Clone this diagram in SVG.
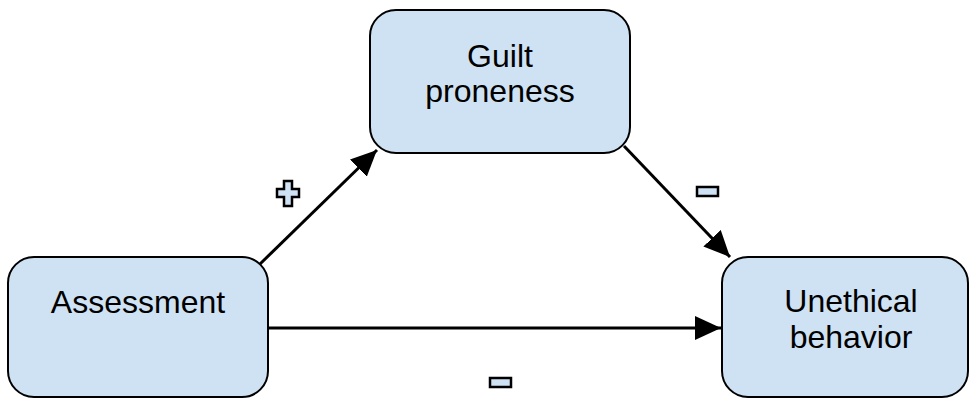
<svg xmlns="http://www.w3.org/2000/svg" width="969" height="398" viewBox="0 0 969 398">
<style>
.node{fill:#cfe2f3;stroke:#000;stroke-width:2}
.lbl{font-family:"Liberation Sans",Arial,sans-serif;font-size:32px;fill:#000;text-anchor:middle}
.edge{stroke:#000;stroke-width:3;fill:none}
.sign{fill:#cfe2f3;stroke:#000;stroke-width:2.5}
</style>
<defs>
<marker id="arr" markerUnits="userSpaceOnUse" viewBox="0 0 26 24" refX="26" refY="12" markerWidth="26" markerHeight="24" orient="auto">
<path d="M0,0 L26,12 L0,24 z" fill="#000"/>
</marker>
</defs>
<g id="edges">
<line class="edge" x1="260" y1="264" x2="377" y2="150" marker-end="url(#arr)"/>
<line class="edge" x1="624" y1="146" x2="730" y2="257" marker-end="url(#arr)"/>
<line class="edge" x1="268" y1="328" x2="721" y2="328" marker-end="url(#arr)"/>
</g>
<g id="guilt">
<rect class="node" x="370" y="10" width="260" height="143" rx="26"/>
<text class="lbl" x="500" y="67">Guilt</text>
<text class="lbl" x="500" y="102">proneness</text>
</g>
<g id="assessment">
<rect class="node" x="8" y="257" width="260" height="140" rx="26"/>
<text class="lbl" x="138" y="313">Assessment</text>
</g>
<g id="unethical">
<rect class="node" x="722" y="257" width="246" height="140" rx="26"/>
<text class="lbl" x="851" y="312">Unethical</text>
<text class="lbl" x="851" y="348">behavior</text>
</g>
<g id="signs">
<path class="sign" d="M284,181 h8 v8 h7 v8 h-7 v9 h-8 v-9 h-7 v-8 h7 z"/>
<rect class="sign" x="697" y="187" width="21" height="9"/>
<rect class="sign" x="490" y="378" width="21" height="9"/>
</g>
</svg>
